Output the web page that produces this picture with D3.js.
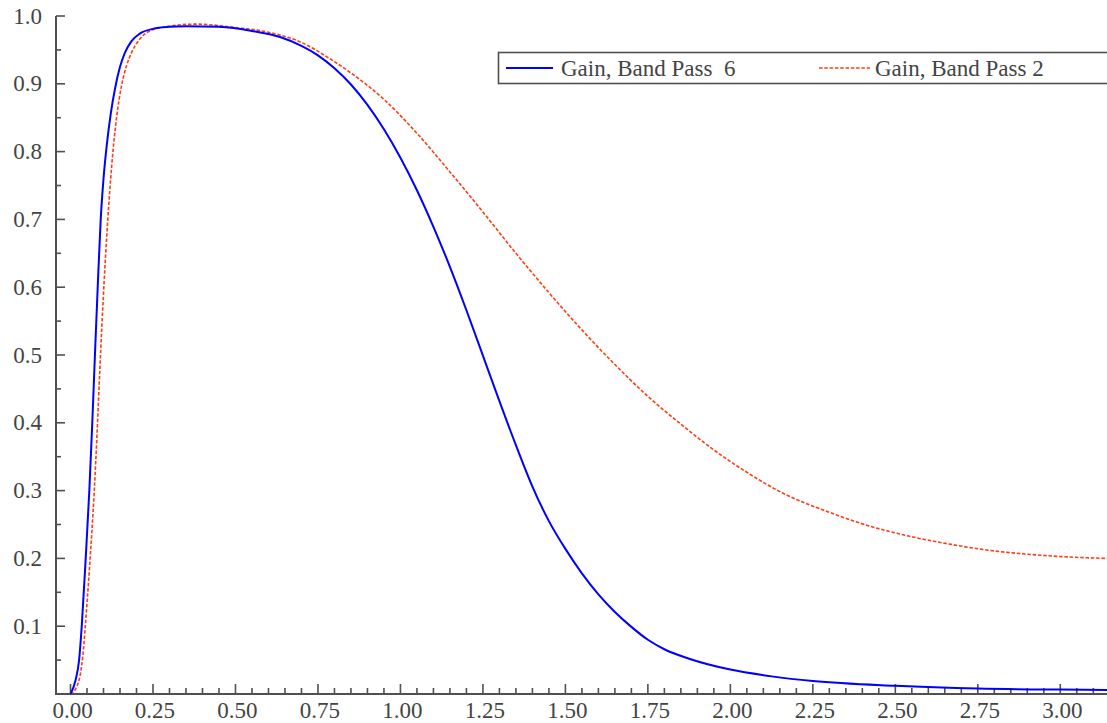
<!DOCTYPE html>
<html>
<head>
<meta charset="utf-8">
<script src="https://cdn.jsdelivr.net/npm/d3@7"></script>
<style>
  body { margin: 0; background: #fff; }
  svg { display: block; }
  text { font-family: "Liberation Serif", "Times New Roman", serif; fill: #444; }
</style>
</head>
<body>
<div id="viz"></div>
<script>
// frequency (rad/sample) samples and gain for each band pass filter
var bp6X = [0.0, 0.015, 0.026, 0.034, 0.046, 0.057, 0.066, 0.074, 0.0824, 0.0915, 0.10, 0.11, 0.122, 0.135, 0.15, 0.165, 0.185, 0.21, 0.25, 0.30, 0.35, 0.45, 0.55, 0.635, 0.70, 0.75, 0.80, 0.85, 0.90, 0.95, 1.00, 1.05, 1.10, 1.15, 1.20, 1.25, 1.30, 1.35, 1.40, 1.45, 1.50, 1.55, 1.60, 1.65, 1.70, 1.75, 1.80, 1.875, 2.0, 2.125, 2.25, 2.5, 2.75, 3.0, 3.1416];
var bp6Gain = [0.0, 0.02, 0.05, 0.10, 0.20, 0.30, 0.40, 0.50, 0.60, 0.70, 0.76, 0.81, 0.856, 0.893, 0.925, 0.946, 0.963, 0.974, 0.981, 0.984, 0.985, 0.984, 0.978, 0.969, 0.956, 0.942, 0.923, 0.899, 0.869, 0.833, 0.791, 0.743, 0.689, 0.630, 0.566, 0.499, 0.432, 0.367, 0.306, 0.255, 0.214, 0.178, 0.147, 0.121, 0.099, 0.080, 0.066, 0.052, 0.036, 0.026, 0.019, 0.012, 0.008, 0.0065, 0.006];

var bp2X = [0.0, 0.02, 0.03, 0.037, 0.044, 0.058, 0.072, 0.081, 0.089, 0.1015, 0.113, 0.125, 0.14, 0.155, 0.17, 0.185, 0.21, 0.24, 0.30, 0.38, 0.50, 0.60, 0.70, 0.786, 0.85, 0.95, 1.05, 1.15, 1.25, 1.35, 1.45, 1.55, 1.65, 1.75, 1.85, 1.95, 2.05, 2.16, 2.30, 2.413, 2.54, 2.665, 2.8, 2.918, 3.03, 3.1416];
var bp2Gain = [0.0, 0.012, 0.03, 0.055, 0.095, 0.19, 0.30, 0.39, 0.48, 0.605, 0.70, 0.78, 0.852, 0.898, 0.927, 0.946, 0.966, 0.978, 0.985, 0.988, 0.983, 0.976, 0.961, 0.937, 0.916, 0.877, 0.827, 0.770, 0.711, 0.650, 0.592, 0.537, 0.486, 0.439, 0.398, 0.360, 0.327, 0.296, 0.268, 0.249, 0.233, 0.221, 0.211, 0.2055, 0.202, 0.200];

var seriesNames = ["Gain, Band Pass  6", "Gain, Band Pass 2"];
var yLabels = [0.1, 0.2, 0.3, 0.4, 0.5, 0.6, 0.7, 0.8, 0.9, 1.0];
var xLabels = [0, 0.25, 0.5, 0.75, 1.0, 1.25, 1.5, 1.75, 2.0, 2.25, 2.5, 2.75, 3.0];

var W = 1107, H = 723;
var plotL = 56, plotR = 1107, plotT = 16, plotB = 694;
var axisCol = "#505050";
var fontPx = "23px";

var x = d3.scaleLinear().domain([-0.044, Math.PI]).range([plotL, plotR]);
var y = d3.scaleLinear().domain([0, 1]).range([plotB, plotT]);

var svg = d3.select("#viz").append("svg")
    .attr("width", W)
    .attr("height", H);

// minor ticks every 0.05, longer ones on the labelled values
var xMinor = d3.range(0, 3.13, 0.05);
var yMinor = d3.range(0.05, 1.001, 0.05);

function isMajor(v, step) {
  return Math.abs(v / step - Math.round(v / step)) < 1e-6;
}

var gx = svg.append("g");
gx.selectAll("line.tk")
  .data(xMinor)
  .enter().append("line")
    .attr("class", "tk")
    .attr("x1", function(d) { return x(d); })
    .attr("x2", function(d) { return x(d); })
    .attr("y1", plotB)
    .attr("y2", function(d) { return plotB - (isMajor(d, 0.25) ? 10 : 6); })
    .attr("stroke", axisCol)
    .attr("stroke-width", 1.6);

gx.selectAll("text")
  .data(xLabels)
  .enter().append("text")
    .attr("x", function(d) { return x(d) + 2; })
    .attr("y", 718)
    .attr("text-anchor", "middle")
    .style("font-size", fontPx)
    .text(function(d) { return d3.format(".2f")(d); });

var gy = svg.append("g");
gy.selectAll("line.tk")
  .data(yMinor)
  .enter().append("line")
    .attr("class", "tk")
    .attr("x1", plotL)
    .attr("x2", function(d) { return plotL + (isMajor(d, 0.1) ? 9 : 5); })
    .attr("y1", function(d) { return y(d); })
    .attr("y2", function(d) { return y(d); })
    .attr("stroke", axisCol)
    .attr("stroke-width", 1.6);

gy.selectAll("text")
  .data(yLabels)
  .enter().append("text")
    .attr("x", 42)
    .attr("y", function(d) { return y(d) + 7.5; })
    .attr("text-anchor", "end")
    .style("font-size", fontPx)
    .text(function(d) { return d3.format(".1f")(d); });

// axis lines
svg.append("line")
    .attr("x1", plotL).attr("x2", plotL)
    .attr("y1", plotT).attr("y2", plotB + 1)
    .attr("stroke", axisCol).attr("stroke-width", 2);
svg.append("line")
    .attr("x1", plotL - 1).attr("x2", plotR)
    .attr("y1", plotB).attr("y2", plotB)
    .attr("stroke", axisCol).attr("stroke-width", 2);

var line = d3.line()
    .x(function(d) { return x(d[0]); })
    .y(function(d) { return y(d[1]); })
    .curve(d3.curveMonotoneX);

svg.append("path")
    .datum(d3.zip(bp2X, bp2Gain))
    .attr("d", line)
    .attr("fill", "none")
    .attr("stroke", "#ff3c14")
    .attr("stroke-width", 1.6)
    .attr("stroke-dasharray", "3.5,1.8");

svg.append("path")
    .datum(d3.zip(bp6X, bp6Gain))
    .attr("d", line)
    .attr("fill", "none")
    .attr("stroke", "#0000ff")
    .attr("stroke-width", 2);

// legend
var lg = svg.append("g");
lg.append("rect")
    .attr("x", 498.5).attr("y", 52.5)
    .attr("width", 620).attr("height", 31)
    .attr("fill", "#fff")
    .attr("stroke", axisCol)
    .attr("stroke-width", 1.6);

lg.append("line")
    .attr("x1", 506).attr("x2", 553)
    .attr("y1", 68).attr("y2", 68)
    .attr("stroke", "#0000ff").attr("stroke-width", 2);
lg.append("text")
    .attr("x", 561).attr("y", 76)
    .attr("xml:space", "preserve")
    .style("white-space", "pre")
    .style("font-size", fontPx)
    .text(seriesNames[0]);

lg.append("line")
    .attr("x1", 819).attr("x2", 870)
    .attr("y1", 68).attr("y2", 68)
    .attr("stroke", "#ff3c14").attr("stroke-width", 1.6)
    .attr("stroke-dasharray", "3.5,1.8");
lg.append("text")
    .attr("x", 875).attr("y", 76)
    .style("font-size", fontPx)
    .text(seriesNames[1]);
</script>
</body>
</html>
